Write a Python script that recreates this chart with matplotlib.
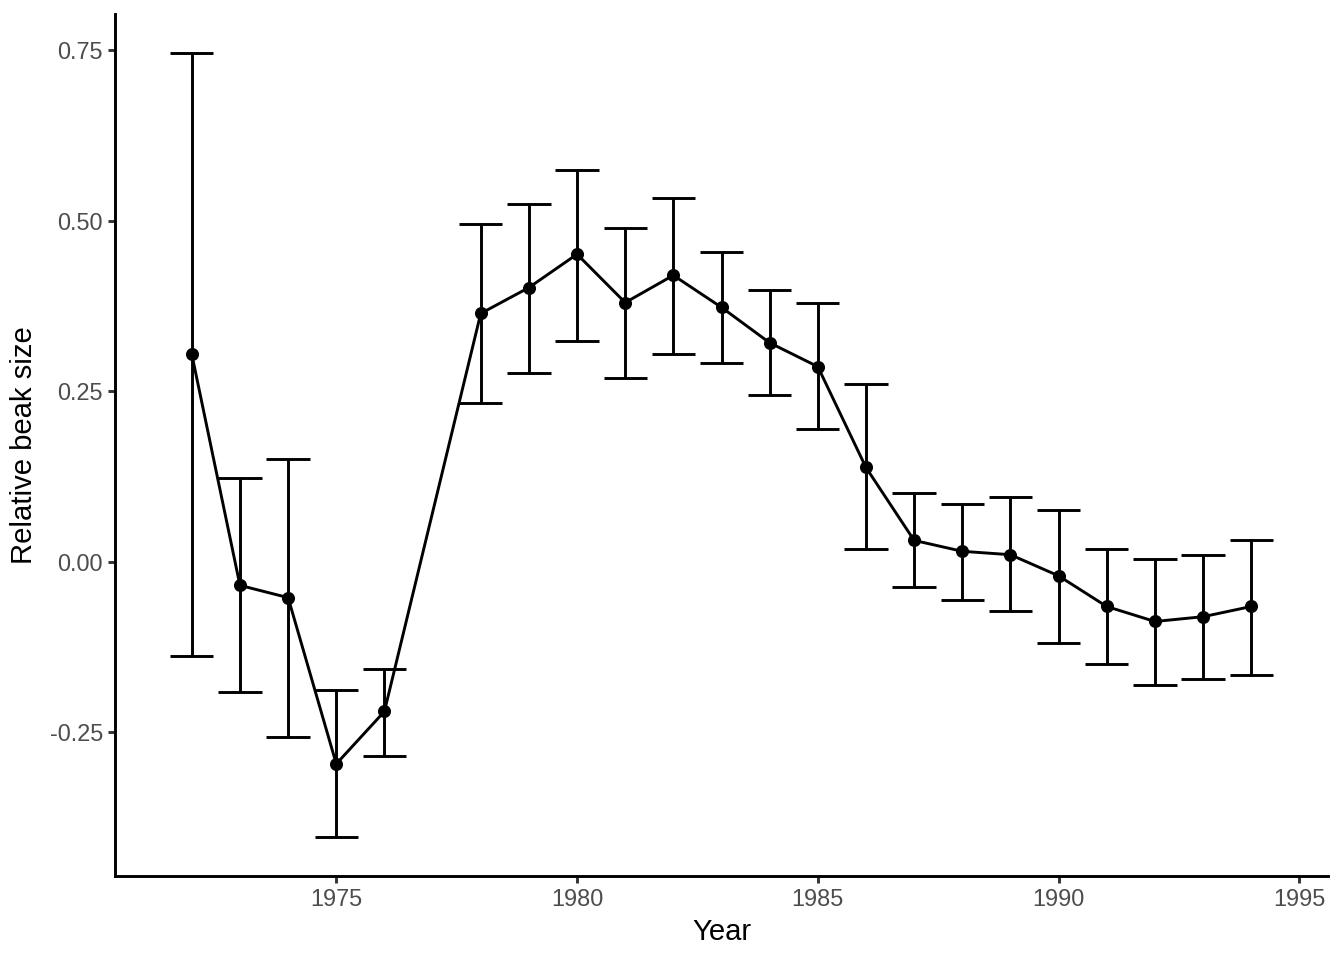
import matplotlib
matplotlib.use("Agg")
import matplotlib.pyplot as plt
import numpy as np

plt.rcParams['font.family'] = ['Liberation Sans', 'DejaVu Sans']

years = [1972, 1973, 1974, 1975, 1976, 1978, 1979, 1980, 1981, 1982, 1983,
         1984, 1985, 1986, 1987, 1988, 1989, 1990, 1991, 1992, 1993, 1994]
mean = [0.304, -0.035, -0.053, -0.297, -0.220, 0.364, 0.402, 0.451, 0.380, 0.420, 0.373,
        0.321, 0.286, 0.138, 0.031, 0.015, 0.010, -0.021, -0.066, -0.088, -0.081, -0.066]
upper = [0.746, 0.122, 0.151, -0.188, -0.157, 0.495, 0.525, 0.575, 0.489, 0.533, 0.454,
         0.398, 0.379, 0.260, 0.100, 0.084, 0.094, 0.075, 0.018, 0.004, 0.009, 0.032]
lower = [-0.138, -0.192, -0.258, -0.404, -0.285, 0.233, 0.277, 0.324, 0.269, 0.305, 0.292,
         0.245, 0.194, 0.018, -0.037, -0.057, -0.073, -0.119, -0.150, -0.181, -0.173, -0.166]
yticks = [-0.25, 0.00, 0.25, 0.50, 0.75]
ytick_labels = ["-0.25", "0.00", "0.25", "0.50", "0.75"]
xticks = [1975, 1980, 1985, 1990, 1995]

fig = plt.figure(figsize=(13.44, 9.6), dpi=100)
ax = fig.add_axes([115/1344, 84/960, (1328-115)/1344, (876-14)/960])

lw = 2.1
capw = 0.45
for x, lo, hi in zip(years, lower, upper):
    ax.plot([x, x], [lo, hi], color='black', lw=lw, solid_capstyle='butt')
    ax.plot([x - capw, x + capw], [lo, lo], color='black', lw=lw, solid_capstyle='butt')
    ax.plot([x - capw, x + capw], [hi, hi], color='black', lw=lw, solid_capstyle='butt')

ax.plot(years, mean, color='black', lw=lw)
ax.plot(years, mean, 'o', color='black', markersize=8.4)

ymin = min(lower); ymax = max(upper)
yr = ymax - ymin
ax.set_ylim(ymin - 0.05 * yr, ymax + 0.05 * yr)
xmin = min(years) - capw; xmax = max(years) + capw
xr = xmax - xmin
ax.set_xlim(xmin - 0.05 * xr, xmax + 0.05 * xr)

ax.set_yticks(yticks)
ax.set_yticklabels(ytick_labels)
ax.set_xticks(xticks)
ax.set_xticklabels([str(t) for t in xticks])

for s in ['top', 'right']:
    ax.spines[s].set_visible(False)
for s in ['left', 'bottom']:
    ax.spines[s].set_linewidth(lw)
    ax.spines[s].set_color('black')

ax.tick_params(axis='both', length=5.3, width=lw, color='#333333',
               labelcolor='#4D4D4D', labelsize=16.9, pad=3.5)

ax.set_xlabel('Year', fontsize=21.1, color='black', labelpad=5)
ax.set_ylabel('Relative beak size', fontsize=21.1, color='black', labelpad=8)

fig.savefig('out.png', dpi=100)
